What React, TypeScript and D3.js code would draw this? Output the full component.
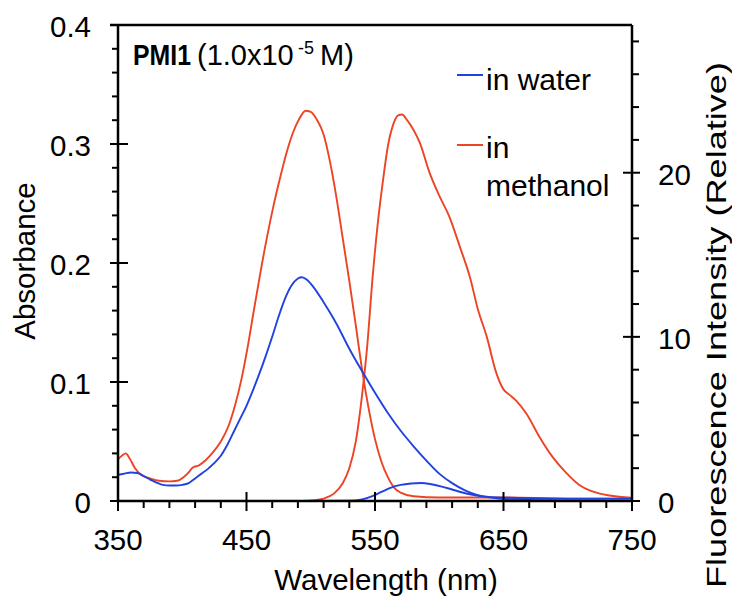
import React from 'react';
import * as d3 from 'd3';

// ---- data ----
const xTicks = [350, 450, 550, 650, 750];
const yLeftTicks = [0, 0.1, 0.2, 0.3, 0.4];
const yRightTicks = [0, 10, 20];

// Absorbance in methanol (left axis)
const absMeOHWl = [350, 353, 356, 359, 363, 368, 375, 382, 390, 396, 401, 405, 408, 413, 418, 424, 430, 436, 441, 446, 451, 456, 461, 466, 471, 476, 481, 486, 491, 496, 500, 505, 510, 515, 520, 525, 530, 535, 540, 545, 550, 555, 560, 565, 570, 580, 600, 650, 700, 750];
const absMeOHVal = [0.035, 0.038, 0.040, 0.036, 0.028, 0.022, 0.019, 0.017, 0.0165, 0.017, 0.020, 0.024, 0.028, 0.030, 0.034, 0.041, 0.050, 0.063, 0.080, 0.102, 0.130, 0.162, 0.193, 0.222, 0.248, 0.271, 0.292, 0.309, 0.321, 0.328, 0.327, 0.320, 0.308, 0.285, 0.255, 0.220, 0.185, 0.148, 0.110, 0.078, 0.052, 0.033, 0.020, 0.011, 0.007, 0.004, 0.003, 0.003, 0.002, 0.002];

// Absorbance in water (left axis)
const absWaterWl = [350, 355, 360, 365, 370, 375, 380, 385, 390, 395, 400, 405, 410, 415, 420, 425, 430, 435, 440, 445, 450, 455, 460, 465, 470, 475, 480, 485, 490, 493, 497, 502, 510, 520, 530, 540, 550, 560, 570, 580, 590, 600, 610, 620, 630, 645, 700, 750];
const absWaterVal = [0.022, 0.023, 0.024, 0.0235, 0.021, 0.018, 0.0155, 0.0135, 0.013, 0.013, 0.0135, 0.015, 0.019, 0.023, 0.027, 0.032, 0.038, 0.047, 0.058, 0.069, 0.080, 0.093, 0.107, 0.122, 0.138, 0.155, 0.170, 0.181, 0.187, 0.188, 0.186, 0.180, 0.167, 0.149, 0.128, 0.109, 0.091, 0.074, 0.059, 0.046, 0.034, 0.023, 0.015, 0.009, 0.005, 0.003, 0.002, 0.002];

// Fluorescence in methanol (right axis)
const flMeOHWl = [490, 500, 510, 518, 525, 530, 535, 540, 544, 548, 552, 556, 560, 564, 568, 571, 575, 580, 585, 592, 600, 608, 616, 624, 630, 637, 644, 650, 655, 660, 668, 678, 688, 699, 709, 717, 725, 740, 750];
const flMeOHVal = [0, 0.03, 0.15, 0.45, 1.1, 2.0, 3.6, 6.5, 9.5, 13.5, 16.8, 19.4, 21.6, 22.9, 23.5, 23.55, 23.2, 22.6, 21.8, 20.1, 18.6, 17.3, 15.5, 13.6, 11.7, 10.0, 7.9, 6.8, 6.45, 6.1, 5.3, 3.9, 2.7, 1.7, 0.98, 0.65, 0.45, 0.26, 0.2];

// Fluorescence in water (right axis)
const flWaterWl = [500, 530, 540, 548, 555, 562, 570, 578, 586, 594, 602, 610, 618, 626, 636, 646, 656, 670, 690, 720, 750];
const flWaterVal = [0, 0.02, 0.1, 0.3, 0.55, 0.8, 0.98, 1.07, 1.1, 1.02, 0.88, 0.7, 0.52, 0.38, 0.25, 0.15, 0.1, 0.06, 0.04, 0.03, 0.02];

const legendLabels = ['in water', 'in', 'methanol'];

const BLUE = '#2142e0';
const RED = '#ec4424';
const FONT = '"Liberation Sans", Arial, Helvetica, sans-serif';

export default function App() {
  const W = 732, H = 598;
  const L = 118, R = 632, T = 25, B = 501;
  const x = d3.scaleLinear().domain([350, 750]).range([L, R]);
  const yL = d3.scaleLinear().domain([0, 0.4]).range([B, T]);
  const yR = d3.scaleLinear().domain([0, 29]).range([B, T]);

  const mk = (wl: number[], v: number[], ys: d3.ScaleLinear<number, number>) =>
    d3.line<number>().x((_, i) => x(wl[i])).y((d) => ys(d)).curve(d3.curveMonotoneX)(v) || '';

  const xMinor = d3.range(370, 750, 20).filter((v) => (v - 350) % 100 !== 0);
  const yLMinor = d3.range(0.02, 0.4, 0.02).filter((v) => Math.abs(v * 10 - Math.round(v * 10)) > 1e-6);
  const yRMinor = d3.range(2, 29, 2).filter((v) => v % 10 !== 0);

  const axisStroke = { stroke: '#000', strokeWidth: 2.5 } as const;
  const tickStroke = { stroke: '#000', strokeWidth: 2 } as const;

  return (
    <svg width={W} height={H} style={{ position: 'absolute', left: 0, top: 0, background: '#fff' }} fontFamily={FONT}>
      <rect x={0} y={0} width={W} height={H} fill="#fff" />
      {/* curves */}
      <path d={mk(absMeOHWl, absMeOHVal, yL)} fill="none" stroke={RED} strokeWidth={1.9} />
      <path d={mk(flMeOHWl, flMeOHVal, yR)} fill="none" stroke={RED} strokeWidth={1.9} />
      <path d={mk(absWaterWl, absWaterVal, yL)} fill="none" stroke={BLUE} strokeWidth={1.9} />
      <path d={mk(flWaterWl, flWaterVal, yR)} fill="none" stroke={BLUE} strokeWidth={1.9} />

      {/* frame */}
      <line x1={L} x2={L} y1={T} y2={B} {...axisStroke} />
      <line x1={R} x2={R} y1={T} y2={B} {...axisStroke} />
      <line x1={L - 8} x2={R} y1={T} y2={T} {...axisStroke} />
      <line x1={L} x2={R} y1={B} y2={B} {...axisStroke} />

      {/* left ticks */}
      {yLeftTicks.map((t) => (
        <g key={'yl' + t}>
          <line x1={L - 8} x2={L + 10} y1={yL(t)} y2={yL(t)} {...tickStroke} />
          <text x={91} y={yL(t) + 12} fontSize={29.5} textAnchor="end">{t === 0 ? '0' : t.toFixed(1)}</text>
        </g>
      ))}
      {yLMinor.map((t) => (
        <line key={'ylm' + t} x1={L - 6} x2={L} y1={yL(t)} y2={yL(t)} {...tickStroke} />
      ))}

      {/* right ticks */}
      {yRightTicks.map((t) => (
        <g key={'yr' + t}>
          <line x1={R - 9} x2={R + 8} y1={yR(t)} y2={yR(t)} {...tickStroke} />
          <text x={658} y={yR(t) + 12} fontSize={29.5} textAnchor="start">{t}</text>
        </g>
      ))}
      {yRMinor.map((t) => (
        <line key={'yrm' + t} x1={R} x2={R + 7} y1={yR(t)} y2={yR(t)} {...tickStroke} />
      ))}

      {/* bottom ticks */}
      {xTicks.map((t) => (
        <g key={'x' + t}>
          <line x1={x(t)} x2={x(t)} y1={B - 9} y2={B + 10} {...tickStroke} />
          <text x={x(t)} y={550} fontSize={29.5} textAnchor="middle">{t}</text>
        </g>
      ))}
      {xMinor.map((t) => (
        <line key={'xm' + t} x1={x(t)} x2={x(t)} y1={B} y2={B + 7} {...tickStroke} />
      ))}

      {/* axis titles */}
      <text x={386} y={590} fontSize={29.5} textAnchor="middle">Wavelength (nm)</text>
      <text transform="translate(35,261) rotate(-90)" fontSize={29.5} textAnchor="middle">Absorbance</text>
      <text transform="translate(726,325) rotate(-90)" fontSize={28} textAnchor="middle" textLength={526} lengthAdjust="spacingAndGlyphs">Fluorescence Intensity (Relative)</text>

      {/* title */}
      <text y={65} fontSize={29}>
        <tspan x={133} fontWeight="bold" fontSize={30} textLength={58} lengthAdjust="spacingAndGlyphs">PMI1</tspan>
        <tspan x={197}>(1.0x10</tspan>
        <tspan x={298} dy={-11} fontSize={18}>-5</tspan>
        <tspan x={320} dy={11}>M)</tspan>
      </text>

      {/* legend */}
      <line x1={457} x2={483} y1={75} y2={75} stroke={BLUE} strokeWidth={2} />
      <text x={486} y={90} fontSize={30}>{legendLabels[0]}</text>
      <line x1={457} x2={483} y1={145} y2={145} stroke={RED} strokeWidth={2} />
      <text x={486} y={158} fontSize={30}>{legendLabels[1]}</text>
      <text x={486} y={196} fontSize={30}>{legendLabels[2]}</text>
    </svg>
  );
}
